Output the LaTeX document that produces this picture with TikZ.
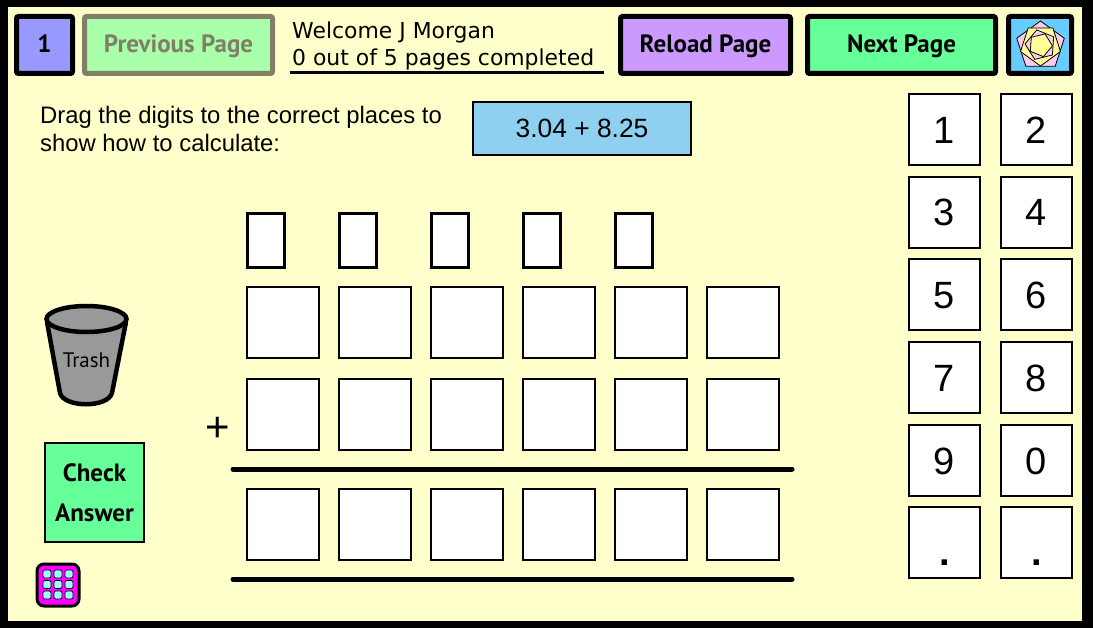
\documentclass[tikz,border=0pt]{standalone}
\usepackage{fontspec}
\setmainfont{Liberation Sans}
\newfontfamily\welcomefont{DejaVu Sans}
\newfontfamily\buttonfont{PT Sans}
\usepackage{xcolor}
\usetikzlibrary{positioning, shapes.geometric}
\definecolor{paper}{HTML}{FFFFCC}
\definecolor{dimline}{HTML}{808066}
\definecolor{dimfill}{HTML}{AAFFAA}
\definecolor{pagefill}{HTML}{9999FF}
\definecolor{reloadfill}{HTML}{CC99FF}
\definecolor{goodfill}{HTML}{66FF99}
\definecolor{sumfill}{HTML}{8FD0F0}
\definecolor{skyfill}{HTML}{66CCFF}
\definecolor{petal}{HTML}{FFCCEE}
\definecolor{honey}{HTML}{FFFF99}
\definecolor{binfill}{HTML}{999999}
\definecolor{gridfill}{HTML}{FF00FF}
\definecolor{dotfill}{HTML}{99FFFF}

\begin{document}
\begin{tikzpicture}[x=1pt, y=-1pt,
  navbtn/.style={draw, line width=5pt, rounded corners=2pt, minimum height=57pt, inner sep=0pt,
    text height=17pt, text depth=2pt, font=\buttonfont\bfseries\fontsize{25}{25}\selectfont},
  cell/.style={draw, line width=2pt, fill=white, minimum width=72pt, minimum height=71pt, inner sep=0pt},
  carry/.style={draw, line width=3pt, fill=white, minimum width=37pt, minimum height=54pt, inner sep=0pt},
  tile/.style={draw, line width=2pt, fill=white, minimum width=71pt, minimum height=71pt, inner sep=0pt,
    text height=27pt, text depth=0pt, font=\fontsize{38}{38}\selectfont},
  rose/.style={regular polygon, regular polygon sides=5, draw, line width=0.8pt, inner sep=0pt},
  griddot/.style={draw, line width=0.7pt, fill=dotfill, rounded corners=2pt, minimum size=8pt, inner sep=0pt},
  rulebar/.style={line width=5pt, line cap=round}]
  \useasboundingbox (0,0) rectangle (1093,628);
  \fill[black] (0,0) rectangle (1093,628);
  \fill[paper] (7.5,7) rectangle (1082,620.5);

  % top bar
  \node[navbtn, fill=pagefill, minimum width=56pt] (pagebtn) at (44.5,45) {1};
  \node[navbtn, fill=dimfill, draw=dimline, text=dimline, minimum width=188pt] (prevbtn) at (178.5,45) {Previous Page};
  \node[navbtn, fill=reloadfill, minimum width=170pt] (reloadbtn) at (705.5,45) {Reload Page};
  \node[navbtn, fill=goodfill, minimum width=188pt] (nextbtn) at (901.5,45) {Next Page};
  \node[navbtn, fill=skyfill, minimum width=63pt] (rosebtn) at (1040,45) {};
  \node[anchor=base west, inner sep=0pt, font=\welcomefont\fontsize{21.9}{21.9}\selectfont] (welcome) at (292,38.5) {Welcome J Morgan};
  \node[anchor=base west, inner sep=0pt, font=\welcomefont\fontsize{21.9}{21.9}\selectfont] (progress) at (292,66) {0 out of 5 pages completed};
  \coordinate (barstart) at (290,73);
  \coordinate (barend) at (604,73);
  \draw[line width=3pt] (barstart) -- (barend);

  % rose in the corner button
  \node[rose, fill=petal, minimum size=50pt] (rosea) at (1040.5,46) {};
  \node[rose, fill=honey, minimum size=42pt, rotate=36] (roseb) at (1040.5,45) {};
  \node[rose, fill=petal, minimum size=31pt, rotate=14] (rosec) at (1040.5,45) {};
  \node[rose, fill=honey, minimum size=24pt, rotate=50] (rosed) at (1040.5,45) {};

  % question
  \node[anchor=base west, inner sep=0pt, font=\fontsize{23.85}{23.85}\selectfont] (dragone) at (40,124) {Drag the digits to the correct places to};
  \node[anchor=base west, inner sep=0pt, font=\fontsize{23.85}{23.85}\selectfont] (dragtwo) at (40,151.5) {show how to calculate:};
  \node[draw, line width=2pt, fill=sumfill, minimum width=218pt, minimum height=53pt, inner sep=0pt,
    font=\fontsize{26.4}{26.4}\selectfont] (sumbox) at (582,128.5) {3.04 + 8.25};

  % digits to drag
  \foreach \tilename/\tilex/\tiley/\tiletext in {
    one/944.5/129.7/1, two/1036.5/129.7/2, three/944.5/212.5/3, four/1036.5/212.5/4,
    five/944.5/294.8/5, six/1036.5/294.8/6, seven/944.5/377.7/7, eight/1036.5/377.7/8,
    nine/944.5/460.5/9, zero/1036.5/460.5/0,
    dota/944.5/542.8/{\raisebox{-9pt}{\bfseries .}}, dotb/1036.5/542.8/{\raisebox{-9pt}{\bfseries .}}}
    \node[tile] (tile\tilename) at (\tilex,\tiley) {\tiletext};

  % places
  \foreach \colx [count=\c] in {282.8,374.8,466.8,558.8,650.8,742.6} {
    \node[cell] (topcell\c) at (\colx,322.5) {};
    \node[cell] (midcell\c) at (\colx,414.5) {};
    \node[cell] (sumcell\c) at (\colx,524.7) {};
  }
  \foreach \colx [count=\c] in {265.7,357.7,449.7,541.7,633.7}
    \node[carry] (carry\c) at (\colx,240.5) {};
  \node[font=\fontsize{42}{42}\selectfont, inner sep=0pt] (plus) at (217.5,429.5) {+};
  \coordinate (ruleastart) at (233,469);
  \coordinate (ruleaend) at (792,469);
  \coordinate (rulebstart) at (233,579);
  \coordinate (rulebend) at (792,579);
  \draw[rulebar] (ruleastart) -- (ruleaend);
  \draw[rulebar] (rulebstart) -- (rulebend);

  % trash
  \draw[line width=4.5pt, fill=binfill] (47,322) -- (60,393) .. controls (64,408) and (108,408) .. (112,393) -- (126,322);
  \draw[line width=4.5pt, fill=binfill] (86.5,319) ellipse [x radius=40, y radius=13];
  \node[font=\buttonfont\fontsize{21}{21}\selectfont, inner sep=0pt] (trash) at (86.5,360) {Trash};

  % check and menu
  \node[draw, line width=2pt, fill=goodfill, minimum width=99pt, minimum height=99pt, inner sep=0pt,
    align=center, font=\buttonfont\bfseries\fontsize{25}{40}\selectfont] (check) at (94.5,492.5) {Check\\Answer};
  \node[draw, line width=3pt, fill=gridfill, rounded corners=7pt, minimum size=42pt, inner sep=0pt] (menu) at (58,585) {};
  \foreach \doty [count=\r] in {574,584.5,595}
    \foreach \dotx [count=\c] in {47,58,69}
      \node[griddot] (griddot\r\c) at (\dotx,\doty) {};
\end{tikzpicture}
\end{document}
